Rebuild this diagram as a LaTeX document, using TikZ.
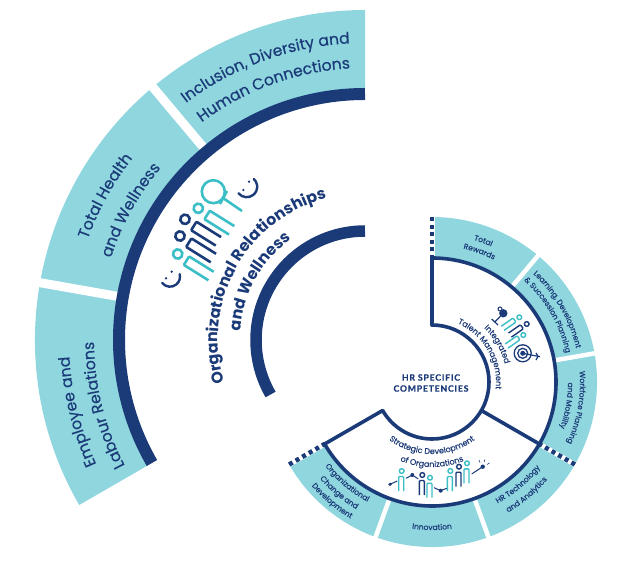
\documentclass[tikz,border=0pt]{standalone}
\usepackage{fontspec}
\setmainfont{Poppins}
\newfontfamily\capsfont[LetterSpace=9,BoldFeatures={FakeBold=0.4}]{Lato}
\newfontfamily\medfont[FakeBold=0.35]{Poppins}
\usetikzlibrary{positioning,calc,decorations.text}
\definecolor{bandteal}{HTML}{8FD6DF}
\definecolor{darknavy}{HTML}{1B3A78}
\definecolor{iconteal}{HTML}{3BBEC6}
\newcommand{\bigtxt}{\medfont\fontsize{15.6}{16}\selectfont}
\newcommand{\midtxt}{\fontsize{15.8}{16}\selectfont\bfseries}
\newcommand{\lowtxt}{\medfont\fontsize{7.6}{8}\selectfont}
\newcommand{\inntxt}{\medfont\fontsize{8}{8}\selectfont}
% centre, radius, from angle, to angle, font, text
\newcommand{\arclabel}[6]{%
  \path[shift={(#1)},decorate,decoration={text along path,text color=darknavy,
    text align=center,text={|#5|#6}}]
    (#3:#2) arc[start angle=#3,end angle=#4,radius=#2];}
% x, y, rotation, scale, colour, line width
\newcommand{\personicon}[6]{%
  \begin{scope}[shift={(#1,#2)},rotate=#3,scale=#4]
    \draw[#5,line width=#6] (0,0) circle[radius=4.7];
    \draw[#5,line width=#6,rounded corners=1pt] (40,-6) -- (11,-6) -- (11,4) -- (40,4);
  \end{scope}}
\tikzset{
  navyline/.style={darknavy,line width=3.6pt,line cap=round},
  dashspoke/.style={darknavy,line width=4.5pt,dash pattern=on 4pt off 3.6pt},
  gapline/.style={white,line width=#1},
  smile/.style={darknavy,line width=2.4pt,line cap=round},
  blobline/.style={darknavy,line width=1pt}
}
\begin{document}
\begin{tikzpicture}[x=1pt,y=1pt]
  \useasboundingbox (0,0) rectangle (628,570);
  \coordinate (bigc) at (365,230);
  \coordinate (smallc) at (432,188);
  % big wedge
  \begin{scope}[shift={(bigc)}]
    \fill[bandteal] (90:250) arc[start angle=90,end angle=210,radius=250]
      -- (210:330) arc[start angle=210,end angle=90,radius=330] -- cycle;
    \foreach \a in {130,170} \draw[gapline=9pt] (\a:235) -- (\a:336);
    \draw[darknavy,line width=12pt] (90:246) arc[start angle=90,end angle=210,radius=246];
    \draw[darknavy,line width=11.5pt] (90:109) arc[start angle=90,end angle=210,radius=109];
  \end{scope}
  % small ring
  \begin{scope}[shift={(smallc)}]
    \fill[bandteal] (90:124) arc[start angle=90,end angle=-150,radius=124]
      -- (-150:165) arc[start angle=-150,end angle=90,radius=165] -- cycle;
    \foreach \a in {50,10,-70,-110} \draw[gapline=4.5pt] (\a:118) -- (\a:169);
    \foreach \a in {90,-30,-150} {
      \draw[white,line width=5pt] (\a:124) -- (\a:166);
      \draw[dashspoke] (\a:165) -- (\a:124);
      \draw[navyline] (\a:57) -- (\a:124);
    }
    \draw[navyline] (90:124) arc[start angle=90,end angle=-150,radius=124];
    \draw[navyline] (90:57) arc[start angle=90,end angle=-150,radius=57];
  \end{scope}
  % people, big wedge
  \personicon{177.7}{316}{-32}{1}{iconteal}{2.6pt}
  \personicon{180}{334}{-32}{1}{darknavy}{2.6pt}
  \personicon{185}{350.7}{-32}{1}{darknavy}{2.6pt}
  \personicon{198.3}{361.7}{-32}{1}{iconteal}{2.6pt}
  \draw[iconteal,line width=2.6pt] (213.3,378.3) circle[radius=11.5];
  \draw[iconteal,line width=2.6pt] (223,372) -- (242,359);
  \draw[iconteal,line width=2.6pt] (227,379) -- (220,366);
  \draw[smile] (170,293.3)+(219:10) arc[start angle=219,end angle=375,radius=10];
  \fill[darknavy] (166,291.7) circle[radius=1.3] (171.7,298.3) circle[radius=1.3];
  \draw[smile] (246.7,383.3)+(219:10.5) arc[start angle=219,end angle=407,radius=10.5];
  \fill[darknavy] (243.3,380) circle[radius=1.3] (249,388.3) circle[radius=1.3];
  % trophy and target
  \personicon{519.3}{252.7}{215}{.5}{iconteal}{1.4pt}
  \personicon{526.7}{246}{215}{.5}{darknavy}{1.4pt}
  \personicon{523.3}{235}{215}{.5}{iconteal}{1.4pt}
  \fill[darknavy] (503.3,256.7) circle[radius=4.2];
  \draw[darknavy,line width=1pt] (500,261) circle[radius=2];
  \draw[darknavy,line width=1.2pt] (503.3,256.7) -- (495,248.3) (491.6,251) -- (498,245);
  \draw[darknavy,line width=1.3pt] (522.7,216.7) circle[radius=8.5] (522.7,216.7) circle[radius=5];
  \fill[darknavy] (522.7,216.7) circle[radius=2.5];
  \draw[darknavy,line width=1.2pt] (522.7,216.7) -- (540,213.3);
  \draw[darknavy,line width=1.2pt] (536,217) -- (538,213.7) -- (536,210);
  % people, lower ring
  \personicon{401.7}{99}{-90}{.5}{iconteal}{1.4pt}
  \personicon{422.3}{95}{-90}{.5}{darknavy}{1.4pt}
  \personicon{430}{92.3}{-90}{.5}{iconteal}{1.4pt}
  \personicon{450.3}{99}{-90}{.5}{iconteal}{1.4pt}
  \personicon{459}{103.3}{-90}{.5}{darknavy}{1.4pt}
  \personicon{467}{106.7}{-90}{.5}{iconteal}{1.4pt}
  \fill[darknavy] (390,85.7) circle[radius=1.8] (412.3,95) circle[radius=2]
    (440.7,79.3) circle[radius=2] (482.7,103.3) circle[radius=2.2];
  \draw[blobline] (390,85.7) -- (397.3,89) (406,91.7) -- (412.3,95) -- (418.3,91)
    (434,82.3) -- (440.7,79.3) -- (446.7,81.7) (471.7,96) -- (482.7,103.3);
  \draw[darknavy,line width=.6pt] (480,107.5) -- (479,110) (484,108) -- (485,110.5) (487,105.5) -- (489.5,107);
  % labels
  \arclabel{bigc}{297}{130}{90}{\bigtxt}{Inclusion, Diversity and}
  \arclabel{bigc}{272}{130}{90}{\bigtxt}{Human Connections}
  \arclabel{bigc}{295}{171}{131}{\bigtxt}{Total Health}
  \arclabel{bigc}{267}{171}{131}{\bigtxt}{and Wellness}
  \arclabel{bigc}{296}{214}{174}{\bigtxt}{Employee and}
  \arclabel{bigc}{271}{214}{174}{\bigtxt}{Labour Relations}
  \arclabel{bigc}{147}{216}{86}{\midtxt}{Organizational Relationships}
  \arclabel{bigc}{125}{191}{111}{\midtxt}{and Wellness}
  \arclabel{smallc}{148}{90}{50}{\lowtxt}{Total}
  \arclabel{smallc}{137}{90}{50}{\lowtxt}{Rewards}
  \arclabel{smallc}{148}{50}{10}{\lowtxt}{Learning, Development}
  \arclabel{smallc}{137}{50}{10}{\lowtxt}{{\&} Succession Planning}
  \arclabel{smallc}{148}{10}{-30}{\lowtxt}{Workforce Planning}
  \arclabel{smallc}{136}{10}{-30}{\lowtxt}{and Mobility}
  \arclabel{smallc}{138}{-70}{-30}{\lowtxt}{HR Technology}
  \arclabel{smallc}{151}{-70}{-30}{\lowtxt}{and Analytics}
  \arclabel{smallc}{148}{250}{290}{\lowtxt}{Innovation}
  \arclabel{smallc}{136}{210}{250}{\lowtxt}{Organizational}
  \arclabel{smallc}{148}{210}{250}{\lowtxt}{Change and}
  \arclabel{smallc}{159}{210}{250}{\lowtxt}{Development}
  \arclabel{smallc}{75}{70}{-10}{\inntxt}{Integrated}
  \arclabel{smallc}{64}{70}{-10}{\inntxt}{Talent Management}
  \arclabel{smallc}{72}{225}{315}{\inntxt}{Strategic Development}
  \arclabel{smallc}{85}{240}{300}{\inntxt}{of Organizations}
  \node[text=darknavy,font=\capsfont\bfseries\fontsize{8.7}{9}\selectfont,align=center,inner sep=0pt] (hrspec) at (431,187)
    {HR SPECIFIC\\[2pt]COMPETENCIES};
\end{tikzpicture}
\end{document}
